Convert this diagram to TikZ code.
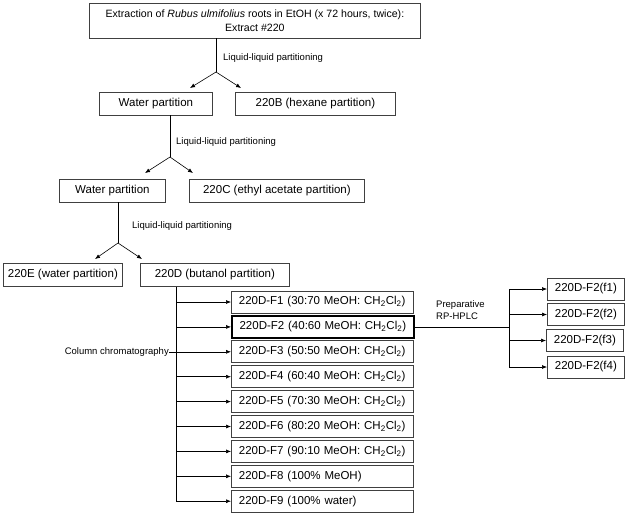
\documentclass[tikz,border=0pt]{standalone}
\usepackage{fontspec}
\setmainfont{Liberation Sans}
\usetikzlibrary{arrows.meta}
\newcommand{\chcl}{CH\textsubscript{2}Cl\textsubscript{2})}
\begin{document}
\begin{tikzpicture}[x=1pt,y=-1pt,
 box/.style={draw=black!75, line width=0.8pt, inner sep=0pt, font=\fontsize{11.5}{13}\selectfont, anchor=west, minimum height=23pt},
 fbox/.style={box, text width=167pt, inner xsep=7.5pt, align=left, minimum height=22pt},
 sbox/.style={box, minimum width=77pt, minimum height=22pt},
 lbl/.style={font=\fontsize{9.5}{11.5}\selectfont, inner sep=0pt, anchor=west, align=left},
 arr/.style={-{Latex[length=5pt,width=4pt]}, line width=0.6pt},
 ln/.style={line width=0.6pt}]
\useasboundingbox (0,0) rectangle (634,515);
% top
\node[box, minimum width=331pt, minimum height=35pt, align=center, font=\fontsize{10.6}{14}\selectfont] (top) at (89,20.5)
 {Extraction of \textit{Rubus ulmifolius} roots in EtOH (x 72 hours, twice):\\Extract \#220};
\coordinate (b1) at (216,72);
\coordinate (t1a) at (190,88);
\coordinate (t1b) at (241,88);
\draw[ln] (top.south -| b1) -- (b1);
\draw[arr] (b1) -- (t1a);
\draw[arr] (b1) -- (t1b);
\node[lbl] (l1) at (223,58) {Liquid-liquid partitioning};
\node[box, minimum width=113pt] (wp1) at (99,103.5) {Water partition};
\node[box, minimum width=160pt] (p220b) at (235,103.5) {220B (hexane partition)};
% level 2
\coordinate (b2) at (170,157);
\coordinate (t2a) at (145,173);
\coordinate (t2b) at (193,173);
\draw[ln] (wp1.south -| b2) -- (b2);
\draw[arr] (b2) -- (t2a);
\draw[arr] (b2) -- (t2b);
\node[lbl] (l2) at (176,142) {Liquid-liquid partitioning};
\node[box, minimum width=106pt] (wp2) at (59,190.5) {Water partition};
\node[box, minimum width=175pt] (p220c) at (189,190.5) {220C (ethyl acetate partition)};
% level 3
\coordinate (b3) at (118,243);
\coordinate (t3a) at (95,259);
\coordinate (t3b) at (142,259);
\draw[ln] (wp2.south -| b3) -- (b3);
\draw[arr] (b3) -- (t3a);
\draw[arr] (b3) -- (t3b);
\node[lbl] (l3) at (132,226) {Liquid-liquid partitioning};
\node[box, minimum width=119pt] (p220e) at (3,275) {220E (water partition)};
\node[box, minimum width=149pt] (p220d) at (140,275) {220D (butanol partition)};
% fractions
\node[fbox] (f1) at (231,302) {220D-F1 (30:70 MeOH: \chcl};
\node[fbox, line width=2.2pt, draw=black] (f2) at (231,326.9) {220D-F2 (40:60 MeOH: \chcl};
\node[fbox] (f3) at (231,351.8) {220D-F3 (50:50 MeOH: \chcl};
\node[fbox] (f4) at (231,376.7) {220D-F4 (60:40 MeOH: \chcl};
\node[fbox] (f5) at (231,401.6) {220D-F5 (70:30 MeOH: \chcl};
\node[fbox] (f6) at (231,426.5) {220D-F6 (80:20 MeOH: \chcl};
\node[fbox] (f7) at (231,451.4) {220D-F7 (90:10 MeOH: \chcl};
\node[fbox] (f8) at (231,476.3) {220D-F8 (100\% MeOH)};
\node[fbox] (f9) at (231,501.2) {220D-F9 (100\% water)};
\coordinate (vx) at (176,0);
\draw[ln] (p220d.south -| vx) -- (f9.west -| vx);
\foreach \f in {f1,f2,f4,f5,f6,f7,f8,f9}{
 \draw[arr] (\f.west -| vx) -- (\f.west);
}
\node[lbl, anchor=east] (cc) at (169,351.8) {Column chromatography};
\draw[arr] (cc.east) -- (f3.west);
% HPLC
\coordinate (bx) at (509,0);
\node[sbox] (g1) at (547,289) {220D-F2(f1)};
\node[sbox] (g2) at (547,314.5) {220D-F2(f2)};
\node[sbox] (g3) at (546,340.5) {220D-F2(f3)};
\node[sbox] (g4) at (547,367) {220D-F2(f4)};
\draw[ln] (f2.east) -- (f2.east -| bx);
\draw[ln] (g1.west -| bx) -- (g4.west -| bx);
\foreach \g in {g1,g2,g3,g4}{
 \draw[arr] (\g.west -| bx) -- (\g.west);
}
\node[lbl] (hp) at (436,310) {Preparative\\RP-HPLC};
\end{tikzpicture}
\end{document}
